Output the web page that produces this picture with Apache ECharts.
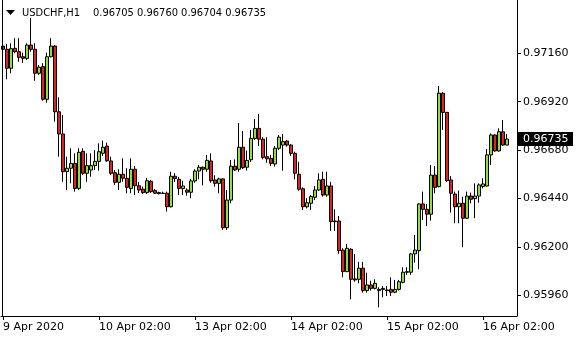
<!DOCTYPE html>
<html>
<head>
<meta charset="utf-8">
<script src="https://cdn.jsdelivr.net/npm/echarts/dist/echarts.min.js"></script>
<style>
html,body{margin:0;padding:0;background:#fff;}
#c{width:580px;height:340px;}
</style>
</head>
<body>
<div id="c"></div>
<script>
const symbolName = 'USDCHF,H1';
const tickLabels = ['9 Apr 2020','10 Apr 02:00','13 Apr 02:00','14 Apr 02:00','15 Apr 02:00','16 Apr 02:00'];
const yTicks = [0.95960, 0.96200, 0.96440, 0.96680, 0.96920, 0.97160];

const opens = [0.97196,0.97180,0.97086,0.97185,0.97168,0.97143,0.97135,0.97201,0.97180,0.97061,
0.97094,0.96932,0.97143,0.97196,0.96870,0.96760,0.96573,0.96590,0.96614,0.96490,
0.96674,0.96565,0.96581,0.96603,0.96624,0.96664,0.96700,0.96626,0.96568,0.96520,
0.96560,0.96540,0.96490,0.96585,0.96503,0.96486,0.96469,0.96525,0.96479,0.96469,
0.96466,0.96466,0.96399,0.96550,0.96535,0.96489,0.96482,0.96471,0.96527,0.96576,
0.96595,0.96585,0.96626,0.96532,0.96515,0.96537,0.96295,0.96432,0.96600,0.96585,
0.96694,0.96595,0.96632,0.96738,0.96788,0.96734,0.96647,0.96639,0.96611,0.96689,
0.96705,0.96725,0.96705,0.96664,0.96560,0.96488,0.96399,0.96416,0.96446,0.96482,
0.96535,0.96457,0.96502,0.96328,0.96328,0.96184,0.96077,0.96188,0.96041,0.96039,
0.96094,0.95983,0.96011,0.95994,0.95989,0.95989,0.95986,0.95989,0.95975,0.95989,
0.96024,0.96074,0.96074,0.96165,0.96181,0.96413,0.96386,0.96362,0.96556,0.96499,
0.96962,0.96867,0.96532,0.96462,0.96399,0.96416,0.96342,0.96452,0.96439,0.96452,
0.96499,0.96502,0.96656,0.96755,0.96676,0.96771,0.96705];

const closes = [0.97180,0.97086,0.97183,0.97168,0.97140,0.97135,0.97201,0.97180,0.97061,0.97091,
0.96932,0.97143,0.97196,0.96870,0.96760,0.96573,0.96590,0.96614,0.96490,0.96669,
0.96565,0.96603,0.96603,0.96624,0.96672,0.96694,0.96627,0.96565,0.96520,0.96560,
0.96540,0.96495,0.96585,0.96503,0.96482,0.96469,0.96528,0.96474,0.96466,0.96464,
0.96465,0.96399,0.96550,0.96539,0.96490,0.96502,0.96471,0.96527,0.96576,0.96595,
0.96585,0.96629,0.96528,0.96515,0.96537,0.96295,0.96432,0.96600,0.96581,0.96694,
0.96593,0.96629,0.96738,0.96788,0.96734,0.96644,0.96637,0.96614,0.96689,0.96744,
0.96722,0.96705,0.96664,0.96565,0.96486,0.96399,0.96419,0.96449,0.96482,0.96532,
0.96457,0.96502,0.96325,0.96325,0.96181,0.96077,0.96193,0.96039,0.96036,0.96094,
0.95983,0.96011,0.95994,0.96019,0.95983,0.95994,0.95983,0.95975,0.95989,0.96027,
0.96074,0.96077,0.96165,0.96184,0.96413,0.96386,0.96362,0.96556,0.96495,0.96962,
0.96867,0.96528,0.96466,0.96399,0.96416,0.96342,0.96452,0.96436,0.96452,0.96507,
0.96512,0.96656,0.96755,0.96676,0.96771,0.96705,0.96735];

const lows = [0.97173,0.97031,0.97061,0.97160,0.97118,0.97113,0.97127,0.97168,0.97024,0.97053,
0.96925,0.96915,0.97140,0.96821,0.96647,0.96523,0.96482,0.96515,0.96474,0.96482,
0.96556,0.96523,0.96548,0.96581,0.96578,0.96651,0.96622,0.96556,0.96507,0.96482,
0.96523,0.96466,0.96466,0.96457,0.96467,0.96462,0.96462,0.96467,0.96462,0.96460,
0.96462,0.96375,0.96395,0.96522,0.96457,0.96457,0.96454,0.96441,0.96518,0.96535,
0.96505,0.96573,0.96518,0.96499,0.96466,0.96284,0.96284,0.96416,0.96576,0.96573,
0.96586,0.96578,0.96621,0.96730,0.96700,0.96634,0.96617,0.96601,0.96598,0.96680,
0.96578,0.96697,0.96651,0.96535,0.96479,0.96383,0.96391,0.96383,0.96432,0.96477,
0.96449,0.96449,0.96279,0.96279,0.96165,0.96049,0.96075,0.95940,0.96027,0.96019,
0.95973,0.95973,0.95983,0.95989,0.95900,0.95950,0.95956,0.95956,0.95970,0.95983,
0.96019,0.96061,0.96061,0.96122,0.96089,0.96333,0.96303,0.96330,0.96466,0.96495,
0.96780,0.96523,0.96370,0.96317,0.96317,0.96198,0.96338,0.96416,0.96342,0.96419,
0.96490,0.96499,0.96606,0.96672,0.96672,0.96700,0.96704];

const highs = [0.97216,0.97206,0.97210,0.97235,0.97235,0.97163,0.97210,0.97335,0.97210,0.97102,
0.97111,0.97163,0.97235,0.97201,0.96942,0.96854,0.96647,0.96689,0.96664,0.96689,
0.96689,0.96664,0.96664,0.96680,0.96714,0.96727,0.96717,0.96647,0.96581,0.96585,
0.96639,0.96590,0.96639,0.96601,0.96522,0.96499,0.96542,0.96532,0.96487,0.96474,
0.96474,0.96474,0.96573,0.96565,0.96547,0.96528,0.96490,0.96537,0.96585,0.96606,
0.96598,0.96656,0.96664,0.96555,0.96543,0.96540,0.96482,0.96631,0.96634,0.96814,
0.96775,0.96678,0.96780,0.96834,0.96859,0.96744,0.96744,0.96656,0.96700,0.96755,
0.96760,0.96730,0.96710,0.96672,0.96622,0.96495,0.96441,0.96457,0.96502,0.96565,
0.96573,0.96573,0.96523,0.96386,0.96353,0.96193,0.96214,0.96193,0.96165,0.96126,
0.96126,0.96072,0.96032,0.96039,0.95999,0.96006,0.96006,0.96049,0.96036,0.96036,
0.96099,0.96099,0.96170,0.96259,0.96416,0.96474,0.96413,0.96606,0.96601,0.96998,
0.96967,0.96870,0.96551,0.96474,0.96479,0.96449,0.96474,0.96469,0.96515,0.96515,
0.96540,0.96685,0.96763,0.96758,0.96788,0.96829,0.96760];

const barsPerLabel = 24;
const emptySlots = 2;
const n = opens.length;
const cats = [];
for (let i = 0; i < n + emptySlots; i++) cats.push(String(i));
const data = opens.map((o, i) => [o, closes[i], lows[i], highs[i]]);

const chart = echarts.init(document.getElementById('c'), null, {renderer: 'canvas'});
const FONT = 'DejaVu Sans';
const TITLE_FONT = '11px "DejaVu Sans Condensed", "DejaVu Sans"';
const showTick = (idx) => idx % barsPerLabel === 0 && idx / barsPerLabel < tickLabels.length;

chart.setOption({
  animation: false,
  backgroundColor: '#fff',
  grid: {left: 1, top: 0, width: 516, height: 316, containLabel: false},
  xAxis: {
    type: 'category',
    data: cats,
    boundaryGap: true,
    axisLine: {show: true, lineStyle: {color: '#000', width: 1}},
    axisTick: {show: true, alignWithLabel: true, interval: (i) => showTick(i), length: 4, lineStyle: {color: '#000'}},
    axisLabel: {
      interval: (i) => showTick(i),
      formatter: (v, i) => showTick(i) ? tickLabels[i / barsPerLabel] : '',
      align: 'left', color: '#000', fontFamily: FONT, fontSize: 11, margin: 6
    },
    splitLine: {show: false}
  },
  yAxis: {
    type: 'value',
    position: 'right',
    min: 0.95857,
    max: 0.974245,
    scale: true,
    axisLine: {show: true, lineStyle: {color: '#000', width: 1}},
    axisTick: {show: true, customValues: yTicks, length: 4, lineStyle: {color: '#000'}},
    axisLabel: {customValues: yTicks, formatter: (v) => Number(v).toFixed(5), color: '#000', fontFamily: FONT, fontSize: 11, margin: 6},
    splitLine: {show: false}
  },
  series: [{
    type: 'candlestick',
    data: data,
    barWidth: 3,
    itemStyle: {
      color: '#8fe03a', color0: '#e0231c',
      borderColor: '#000', borderColor0: '#000', borderColorDoji: '#000', borderWidth: 1
    }
  }]
});

const last = data[data.length - 1];
const yPix = chart.convertToPixel({yAxisIndex: 0}, last[1]);
const fmt = (v) => v.toFixed(5);
chart.setOption({
  graphic: [
    {type: 'line', shape: {x1: 2.5, y1: 0, x2: 2.5, y2: 316}, style: {stroke: '#000', lineWidth: 1}, z: 100},
    {type: 'polygon', shape: {points: [[6, 10], [15, 10], [10.5, 15]]}, style: {fill: '#000'}, z: 100},
    {type: 'text', x: 22, y: 13, style: {text: symbolName, fill: '#000', font: TITLE_FONT, textVerticalAlign: 'middle'}, z: 100},
    {type: 'text', x: 93, y: 13, style: {text: [fmt(last[0]), fmt(last[3]), fmt(last[2]), fmt(last[1])].join(' '), fill: '#000', font: TITLE_FONT, textVerticalAlign: 'middle'}, z: 100},
    {type: 'rect', shape: {x: 517, y: Math.round(yPix) - 7, width: 56, height: 14}, style: {fill: '#000'}, z: 100},
    {type: 'text', x: 523, y: Math.round(yPix), style: {text: fmt(last[1]), fill: '#fff', font: '11px "DejaVu Sans"', textVerticalAlign: 'middle'}, z: 101}
  ]
});
</script>
</body>
</html>
